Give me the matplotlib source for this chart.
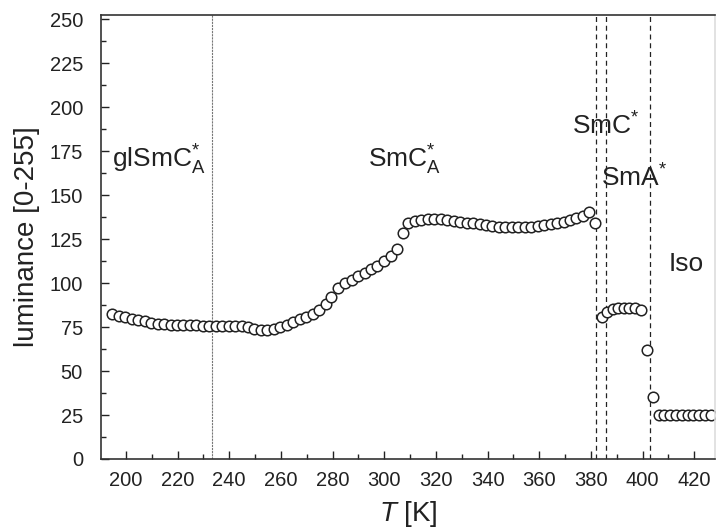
import matplotlib
matplotlib.use("Agg")
import matplotlib.pyplot as plt
from matplotlib.ticker import MultipleLocator

plt.rcParams['font.family'] = ['Liberation Sans', 'DejaVu Sans']
plt.rcParams['mathtext.fontset'] = 'custom'
plt.rcParams['mathtext.rm'] = 'Liberation Sans'
plt.rcParams['mathtext.it'] = 'Liberation Sans:italic'

# temperature [K] and luminance
temp = [194.8, 197.3, 199.8, 202.3, 204.8, 207.3, 209.8, 212.3, 214.8, 217.3,
        219.8, 222.3, 224.8, 227.3, 229.8, 232.3, 234.8, 237.3, 239.8, 242.3,
        244.8, 247.3, 249.8, 252.3, 254.8, 257.3, 259.8, 262.3, 264.8, 267.3,
        269.8, 272.3, 274.8, 277.3, 279.6, 282.3, 284.9, 287.4, 290.0, 292.4,
        294.9, 297.4, 300.0, 302.6, 304.9, 307.1, 309.4, 311.9, 314.4, 316.9,
        319.4, 321.9, 324.4, 326.9, 329.4, 331.9, 334.4, 336.9, 339.4, 341.9,
        344.4, 346.9, 349.4, 351.9, 354.4, 356.9, 359.4, 361.9, 364.4, 366.9,
        369.4, 371.9, 374.4, 376.9, 379.4, 381.6,
        384.2, 386.4, 388.5, 390.6, 392.8, 394.9, 397.1, 399.4, 401.6, 404.1,
        406.2, 408.4, 410.7, 412.9, 415.2, 417.4, 419.6, 421.9, 424.1, 426.4]
lum = [82.5, 81.5, 80.5, 79.5, 79.0, 78.5, 77.5, 77.0, 77.0, 76.5,
       76.5, 76.0, 76.0, 76.0, 75.5, 75.5, 75.5, 75.5, 75.5, 75.5,
       75.5, 75.0, 74.0, 73.5, 73.5, 74.0, 75.0, 76.5, 78.0, 79.5,
       81.0, 82.5, 85.0, 88.0, 92.0, 97.2, 100.0, 102.0, 104.0, 105.7,
       108.0, 110.0, 112.4, 115.6, 119.5, 128.5, 134.0, 135.5, 136.0, 136.5,
       136.5, 136.5, 136.0, 135.5, 135.0, 134.5, 134.0, 133.5, 133.0, 132.5,
       132.0, 132.0, 132.0, 132.0, 132.0, 132.0, 132.5, 133.0, 133.5, 134.0,
       135.0, 136.0, 137.0, 138.5, 140.5, 134.0,
       80.5, 83.5, 85.5, 86.0, 86.0, 86.0, 86.0, 85.0, 62.0, 35.5,
       25.0, 25.0, 25.0, 25.0, 25.0, 25.0, 25.0, 25.0, 25.0, 25.0]

glass_line = 233.5
phase_lines = [381.9, 385.9, 402.8]
phase_labels = [r'glSmC$^{*}_{\mathrm{A}}$', r'SmC$^{*}_{\mathrm{A}}$',
                r'SmC$^{*}$', r'SmA$^{*}$', 'Iso']
label_pos = [(194.6, 166), (293.8, 166), (372.7, 184.5), (383.8, 155), (409.9, 106.7)]

fig = plt.figure(figsize=(7.18, 5.31), dpi=100)
ax = fig.add_axes([0.1407, 0.1356, 0.855, 0.836])

ax.axvline(glass_line, color='#777777', lw=0.8, ls=(0, (2, 0.8)))
for x in phase_lines:
    ax.axvline(x, color='#222222', lw=0.9, ls=(0, (4, 3)))

ax.plot(temp, lum, 'o', ls='none', mfc='white', mec='#222222', ms=7.6, mew=1.1)

for text, (x, y) in zip(phase_labels, label_pos):
    ax.text(x, y, text, fontsize=19, color='#222222', va='baseline', ha='left')

ax.set_xlim(190.4, 428)
ax.set_ylim(0, 252.5)
ax.xaxis.set_major_locator(MultipleLocator(20))
ax.xaxis.set_minor_locator(MultipleLocator(10))
ax.yaxis.set_major_locator(MultipleLocator(25))
ax.yaxis.set_minor_locator(MultipleLocator(12.5))
ax.tick_params(which='both', direction='in', colors='#222222', labelsize=14.5,
               top=False, right=False)
ax.tick_params(which='major', length=6, width=1)
ax.tick_params(which='minor', length=3.5, width=1)
ax.tick_params(axis='x', pad=9)
ax.tick_params(axis='y', pad=13)
for s in ax.spines.values():
    s.set_linewidth(1.2)
    s.set_color('#333333')
ax.spines['right'].set_color('#dddddd')

ax.set_xlabel(r'$\mathit{T}$ [K]', fontsize=20, color='#222222', labelpad=6)
ax.set_ylabel('luminance [0-255]', fontsize=20, color='#222222', labelpad=7)

fig.savefig('out.png', dpi=100)
